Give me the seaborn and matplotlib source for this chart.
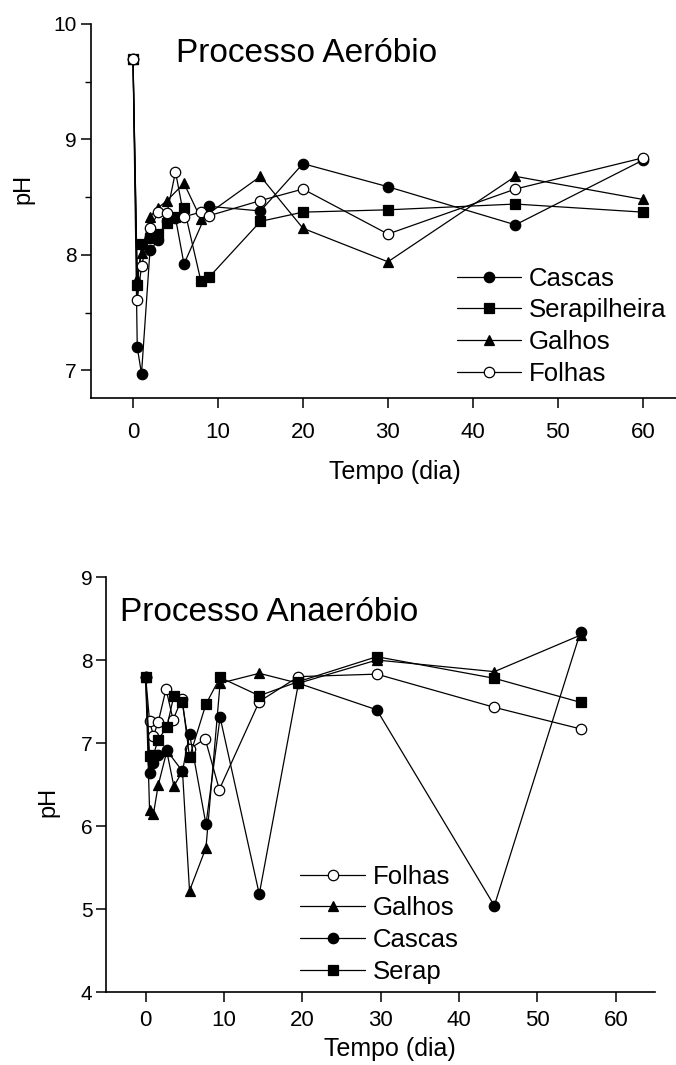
import matplotlib
matplotlib.use("Agg")
import matplotlib.pyplot as plt
from matplotlib import font_manager
from matplotlib.ticker import MultipleLocator
import seaborn as sns
import pandas as pd

# ---- data: Processo Aerobio ----
aer_cascas_t = [0, 0.5, 1, 2, 3, 4, 5, 6, 9, 15, 20, 30, 45, 60]
aer_cascas_ph = [9.7, 7.2, 6.97, 8.04, 8.13, 8.29, 8.32, 7.92, 8.42, 8.38, 8.79, 8.59, 8.26, 8.82]
aer_serap_t = [0, 0.5, 1, 2, 3, 4, 5, 6, 8, 9, 15, 20, 30, 45, 60]
aer_serap_ph = [9.7, 7.74, 8.09, 8.15, 8.18, 8.28, 8.33, 8.41, 7.77, 7.81, 8.29, 8.37, 8.39, 8.44, 8.37]
aer_galhos_t = [0, 0.5, 1, 2, 3, 4, 6, 8, 15, 20, 30, 45, 60]
aer_galhos_ph = [9.7, 7.79, 8.02, 8.33, 8.41, 8.47, 8.62, 8.31, 8.68, 8.23, 7.94, 8.68, 8.48]
aer_folhas_t = [0, 0.5, 1, 2, 3, 4, 5, 6, 8, 9, 15, 20, 30, 45, 60]
aer_folhas_ph = [9.7, 7.61, 7.90, 8.23, 8.37, 8.36, 8.72, 8.33, 8.37, 8.34, 8.47, 8.57, 8.18, 8.57, 8.84]

# ---- data: Processo Anaerobio ----
ana_folhas_t = [0, 0.5, 1, 1.6, 2.6, 3.5, 4.6, 5.6, 7.6, 9.4, 14.5, 19.5, 29.5, 44.5, 55.5]
ana_folhas_ph = [7.8, 7.26, 7.09, 7.25, 7.65, 7.28, 7.53, 6.93, 7.05, 6.44, 7.50, 7.80, 7.83, 7.43, 7.17]
ana_galhos_t = [0, 0.5, 1, 1.6, 2.7, 3.6, 4.7, 5.6, 7.7, 9.5, 14.5, 19.5, 29.5, 44.5, 55.5]
ana_galhos_ph = [7.8, 6.19, 6.15, 6.49, 6.90, 6.48, 6.66, 5.22, 5.74, 7.72, 7.84, 7.72, 8.00, 7.86, 8.30]
ana_cascas_t = [0, 0.5, 1, 1.6, 2.7, 4.7, 5.6, 7.7, 9.5, 14.5, 19.5, 29.5, 44.5, 55.5]
ana_cascas_ph = [7.8, 6.64, 6.76, 6.86, 6.91, 6.66, 7.11, 6.02, 7.31, 5.18, 7.72, 7.40, 5.04, 8.34]
ana_serap_t = [0, 0.5, 1, 1.6, 2.7, 3.6, 4.7, 5.6, 7.7, 9.5, 14.5, 19.5, 29.5, 44.5, 55.5]
ana_serap_ph = [7.8, 6.84, 6.86, 7.04, 7.19, 7.57, 7.50, 6.83, 7.47, 7.79, 7.57, 7.74, 8.04, 7.78, 7.49]

sns.set_style("ticks")
plt.rcParams['font.family'] = ['Liberation Sans', 'DejaVu Sans']
for key in ('text.color', 'axes.labelcolor', 'xtick.color', 'ytick.color', 'axes.edgecolor'):
    plt.rcParams[key] = 'black'

installed = {f.name for f in font_manager.fontManager.ttflist}
narrow = 'Liberation Sans Narrow' if 'Liberation Sans Narrow' in installed else 'Liberation Sans'

fig = plt.figure(figsize=(6.76, 10.65), dpi=100)
ax1 = fig.add_axes([0.1339, 0.6263, 0.8661, 0.3512])
ax2 = fig.add_axes([0.1575, 0.0685, 0.8114, 0.3897])

line_kw = dict(color='black', linewidth=0.9, markersize=7.5, markeredgecolor='black',
               markeredgewidth=0.9)


def draw(ax, t, ph, label, marker, face):
    df = pd.DataFrame({'t': t, 'ph': ph})
    sns.lineplot(data=df, x='t', y='ph', ax=ax, marker=marker, markerfacecolor=face,
                 label=label, sort=False, estimator=None, **line_kw)


draw(ax1, aer_cascas_t, aer_cascas_ph, 'Cascas', 'o', 'black')
draw(ax1, aer_serap_t, aer_serap_ph, 'Serapilheira', 's', 'black')
draw(ax1, aer_galhos_t, aer_galhos_ph, 'Galhos', '^', 'black')
draw(ax1, aer_folhas_t, aer_folhas_ph, 'Folhas', 'o', 'white')

draw(ax2, ana_folhas_t, ana_folhas_ph, 'Folhas', 'o', 'white')
draw(ax2, ana_galhos_t, ana_galhos_ph, 'Galhos', '^', 'black')
draw(ax2, ana_cascas_t, ana_cascas_ph, 'Cascas', 'o', 'black')
draw(ax2, ana_serap_t, ana_serap_ph, 'Serap', 's', 'black')

ax1.set_xlim(-5, 63.9)
ax1.set_ylim(6.76, 10)
ax1.yaxis.set_major_locator(MultipleLocator(1))
ax1.yaxis.set_minor_locator(MultipleLocator(0.5))
ax2.set_xlim(-5, 65)
ax2.set_ylim(4, 9)
ax2.yaxis.set_major_locator(MultipleLocator(1))

for ax in (ax1, ax2):
    ax.xaxis.set_major_locator(MultipleLocator(10))
    sns.despine(ax=ax)
    for s in ('left', 'bottom'):
        ax.spines[s].set_linewidth(1.2)
    ax.tick_params(axis='both', which='major', direction='out', length=7, width=1.1)
    ax.tick_params(axis='y', which='minor', direction='out', length=4, width=1.0)
    ax.tick_params(axis='y', labelsize=15, pad=3)
    ax.tick_params(axis='x', labelsize=16, pad=10)
    for lab in ax.get_xticklabels():
        lab.set_fontfamily(narrow)
    ax.set_xlabel('Tempo (dia)', fontsize=18, family=narrow)
    ax.set_ylabel('pH', fontsize=17)

ax2.tick_params(axis='x', pad=6)

ax1.xaxis.set_label_coords(0.52, -0.165)
ax1.yaxis.set_label_coords(-0.095, 0.56)
ax2.xaxis.set_label_coords(0.517, -0.108)
ax2.yaxis.set_label_coords(-0.085, 0.458)

ax1.text(0.146, 0.92, 'Processo Aeróbio', transform=ax1.transAxes,
         fontsize=24, ha='left', va='center')
ax2.text(0.025, 0.915, 'Processo Anaeróbio', transform=ax2.transAxes,
         fontsize=24, ha='left', va='center')

leg_kw = dict(frameon=False, fontsize=18.5, handlelength=2.5, handletextpad=0.3,
              labelspacing=0.3, borderaxespad=0.0)
ax1.legend(loc='lower left', bbox_to_anchor=(0.608, 0.005), **leg_kw)
ax2.legend(loc='lower left', bbox_to_anchor=(0.335, -0.005), **leg_kw)

fig.savefig('out.png', dpi=100)
